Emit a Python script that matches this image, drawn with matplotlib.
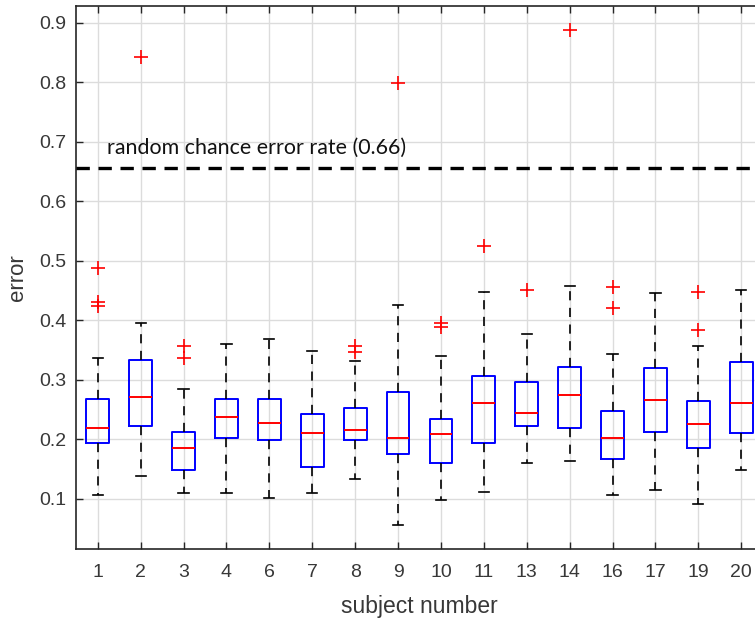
import matplotlib
matplotlib.use("Agg")
import matplotlib.pyplot as plt

plt.rcParams["font.family"] = ["Liberation Sans", "DejaVu Sans"]

# ---- data ----
subjects = ["1", "2", "3", "4", "6", "7", "8", "9", "10", "11", "13", "14", "16", "17", "19", "20"]
whisk_lo = [0.106, 0.138, 0.109, 0.109, 0.101, 0.109, 0.133, 0.055, 0.098, 0.111, 0.160, 0.164, 0.106, 0.114, 0.091, 0.149]
q1       = [0.194, 0.223, 0.148, 0.202, 0.199, 0.154, 0.199, 0.175, 0.160, 0.194, 0.223, 0.218, 0.167, 0.212, 0.186, 0.210]
median   = [0.218, 0.271, 0.186, 0.237, 0.228, 0.210, 0.215, 0.202, 0.208, 0.261, 0.244, 0.274, 0.202, 0.266, 0.226, 0.261]
q3       = [0.268, 0.333, 0.212, 0.268, 0.268, 0.242, 0.252, 0.279, 0.234, 0.306, 0.296, 0.322, 0.247, 0.319, 0.264, 0.330]
whisk_hi = [0.336, 0.396, 0.284, 0.360, 0.368, 0.348, 0.332, 0.426, 0.340, 0.448, 0.376, 0.458, 0.344, 0.445, 0.356, 0.451]
outliers = [
    [0.487, 0.430, 0.424],
    [0.843],
    [0.357, 0.336],
    [],
    [],
    [],
    [0.356, 0.346],
    [0.798],
    [0.396, 0.388],
    [0.525],
    [0.450],
    [0.887],
    [0.455, 0.420],
    [],
    [0.447, 0.384],
    [],
]
chance_rate = 0.655
chance_label = "random chance error rate (0.66)"
y_ticks = [0.1, 0.2, 0.3, 0.4, 0.5, 0.6, 0.7, 0.8, 0.9]

# ---- figure ----
W, H = 755, 622
fig = plt.figure(figsize=(W / 100, H / 100), dpi=100)
# axes extends past the right edge (reference is cropped)
ax = fig.add_axes([76.3 / W, (H - 548.7) / H, 686.4 / W, 542.7 / H])

axis_col = "#262626"
text_col = "#383838"

stats = []
for i in range(len(subjects)):
    stats.append(dict(med=median[i], q1=q1[i], q3=q3[i],
                      whislo=whisk_lo[i], whishi=whisk_hi[i],
                      fliers=outliers[i], label=subjects[i]))

positions = list(range(1, len(subjects) + 1))
ax.bxp(stats, positions=positions, widths=0.53, capwidths=0.24,
       showfliers=True, manage_ticks=False,
       boxprops=dict(color="#0000ff", linewidth=1.4),
       medianprops=dict(color="#ff0000", linewidth=1.4),
       whiskerprops=dict(color="#000000", linewidth=1.2, linestyle=(0, (5.5, 4.5))),
       capprops=dict(color="#000000", linewidth=1.2),
       flierprops=dict(marker="+", markeredgecolor="#ff0000", markersize=10.5,
                       markeredgewidth=1.2, linestyle="none"),
       zorder=3)

ax.axhline(chance_rate, color="black", linewidth=2.4,
           linestyle=(0, (4.0, 2.6)), zorder=4)
ax.text(1.22, 0.679, chance_label, fontsize=15.4, color="#111111",
        family=["Lato", "DejaVu Sans"], va="baseline", ha="left", zorder=5)

ax.set_xlim(0.5, len(subjects) + 0.5)
ax.set_ylim(0.016, 0.928)
ax.set_xticks(positions)
ax.set_xticklabels(subjects)
ax.set_yticks(y_ticks)
ax.set_yticklabels([f"{v:.1f}" for v in y_ticks])

ax.grid(True, color="#dcdcdc", linewidth=1.0, zorder=0)
ax.set_axisbelow(True)
for s in ax.spines.values():
    s.set_color(axis_col)
    s.set_linewidth(1.2)
ax.tick_params(axis="both", direction="in", length=5, width=1.0, color=axis_col,
               labelcolor=text_col, labelsize=14, top=True, right=True)
ax.tick_params(axis="x", pad=11)
ax.tick_params(axis="y", pad=7)

ax.set_xlabel("subject number", fontsize=16.5, color=text_col)
ax.set_ylabel("error", fontsize=16, color=text_col)
ax.xaxis.set_label_coords(0.5, -0.086)
ax.yaxis.set_label_coords(-0.070, 0.5)

fig.savefig("out.png", dpi=100)
